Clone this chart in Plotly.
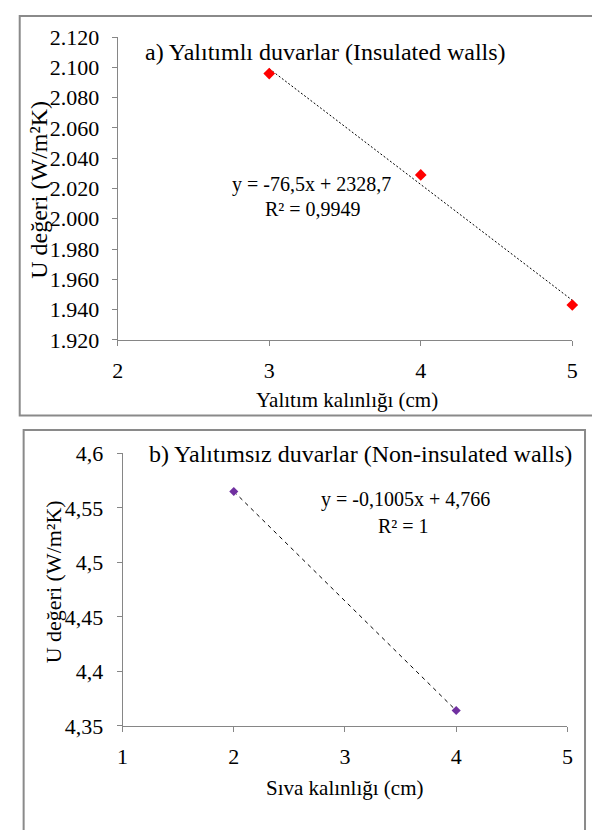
import numpy as np
import plotly.graph_objects as go

# ---- data ----
a_x = [3, 4, 5]
a_y = [2096, 2029, 1943]          # U (shown with Turkish thousands separator)
a_tickvals = [1920, 1940, 1960, 1980, 2000, 2020, 2040, 2060, 2080, 2100, 2120]
a_ticktext = ["1.920", "1.940", "1.960", "1.980", "2.000", "2.020", "2.040",
              "2.060", "2.080", "2.100", "2.120"]
a_xticks = [2, 3, 4, 5]
a_eq = "y = -76,5x + 2328,7"
a_r2 = "R² = 0,9949"
a_title = "a) Yalıtımlı duvarlar (Insulated walls)"
a_xtitle = "Yalıtım kalınlığı (cm)"

b_x = [2, 4]
b_y = [4.565, 4.364]
b_tickvals = [4.35, 4.4, 4.45, 4.5, 4.55, 4.6]
b_ticktext = ["4,35", "4,4", "4,45", "4,5", "4,55", "4,6"]
b_xticks = [1, 2, 3, 4, 5]
b_eq = "y = -0,1005x + 4,766"
b_r2 = "R² = 1"
b_title = "b) Yalıtımsız duvarlar (Non-insulated walls)"
b_xtitle = "Sıva kalınlığı (cm)"

ytitle = "U değeri (W/m²K)"

W, H = 592, 830
FONT = "Liberation Serif"
AXC = "#868686"


def px(x):
    return x / W


def py(y):
    return 1 - y / H


# trend lines via least squares
ca = np.polyfit(a_x, a_y, 1)
cb = np.polyfit(b_x, b_y, 1)
a_tx = [min(a_x), max(a_x)]
b_tx = [min(b_x), max(b_x)]

fig = go.Figure()
fig.add_trace(go.Scatter(x=a_tx, y=list(np.polyval(ca, a_tx)), mode="lines",
                         line=dict(color="black", width=1, dash="2px,2px"),
                         xaxis="x", yaxis="y", showlegend=False, hoverinfo="skip"))
fig.add_trace(go.Scatter(x=a_x, y=a_y, mode="markers",
                         marker=dict(symbol="diamond", size=9, color="#FF0000"),
                         xaxis="x", yaxis="y", showlegend=False, cliponaxis=False))
fig.add_trace(go.Scatter(x=b_tx, y=list(np.polyval(cb, b_tx)), mode="lines",
                         line=dict(color="black", width=1, dash="4px,4px"),
                         xaxis="x2", yaxis="y2", showlegend=False, hoverinfo="skip"))
fig.add_trace(go.Scatter(x=b_x, y=b_y, mode="markers",
                         marker=dict(symbol="diamond", size=7, color="#7030A0"),
                         xaxis="x2", yaxis="y2", showlegend=False, cliponaxis=False))

axcommon = dict(showline=True, linecolor=AXC, linewidth=1, ticks="outside",
                ticklen=5, tickcolor=AXC, showgrid=False, zeroline=False)
tf = dict(family=FONT, size=22, color="black")

fig.update_layout(
    width=W, height=H, margin=dict(l=0, r=0, t=0, b=0),
    paper_bgcolor="white", plot_bgcolor="white",
    font=dict(family=FONT, size=20, color="black"),
    xaxis=dict(domain=[px(114), px(578)], range=[2, 5], tickvals=a_xticks,
               anchor="y", ticklabelstandoff=6, tickfont=tf, **axcommon),
    yaxis=dict(domain=[py(338), py(26)], range=[1920, 2120], tickvals=a_tickvals,
               ticktext=a_ticktext, anchor="x", ticklabelstandoff=8, tickfont=tf,
               **axcommon),
    xaxis2=dict(domain=[px(119), px(573)], range=[1, 5], tickvals=b_xticks,
                anchor="y2", ticklabelstandoff=6, tickfont=tf, **axcommon),
    yaxis2=dict(domain=[py(736), py(455)], range=[4.35, 4.6], tickvals=b_tickvals,
                ticktext=b_ticktext, anchor="x2", ticklabelstandoff=9, tickfont=tf,
                **axcommon),
)

# panel borders
fig.add_shape(type="rect", xref="paper", yref="paper",
              x0=px(14), x1=px(602), y0=py(416), y1=py(4),
              line=dict(color="#8a8a8a", width=2))
fig.add_shape(type="rect", xref="paper", yref="paper",
              x0=px(18), x1=px(591), y0=py(845), y1=py(431),
              line=dict(color="#8a8a8a", width=2))


def ann(text, x, y, size, angle=0):
    fig.add_annotation(text=text, xref="paper", yref="paper", x=px(x), y=py(y),
                       xanchor="center", yanchor="middle", showarrow=False,
                       textangle=angle, font=dict(family=FONT, size=size, color="black"))


ann(a_title, 326, 41, 24)
ann(a_eq, 312, 178, 20)
ann(a_r2, 313, 203, 20)
ann(a_xtitle, 348, 400, 21)
ann(ytitle, 34, 183, 24, angle=-90)

ann(b_title, 362, 456, 24)
ann(b_eq, 408, 503, 20)
ann(b_r2, 406, 530, 20)
ann(b_xtitle, 346, 800, 21)
ann(ytitle, 48, 588, 22, angle=-90)

fig.write_html("out.html", config={"displayModeBar": False},
               post_script="document.body.style.margin='0';")
